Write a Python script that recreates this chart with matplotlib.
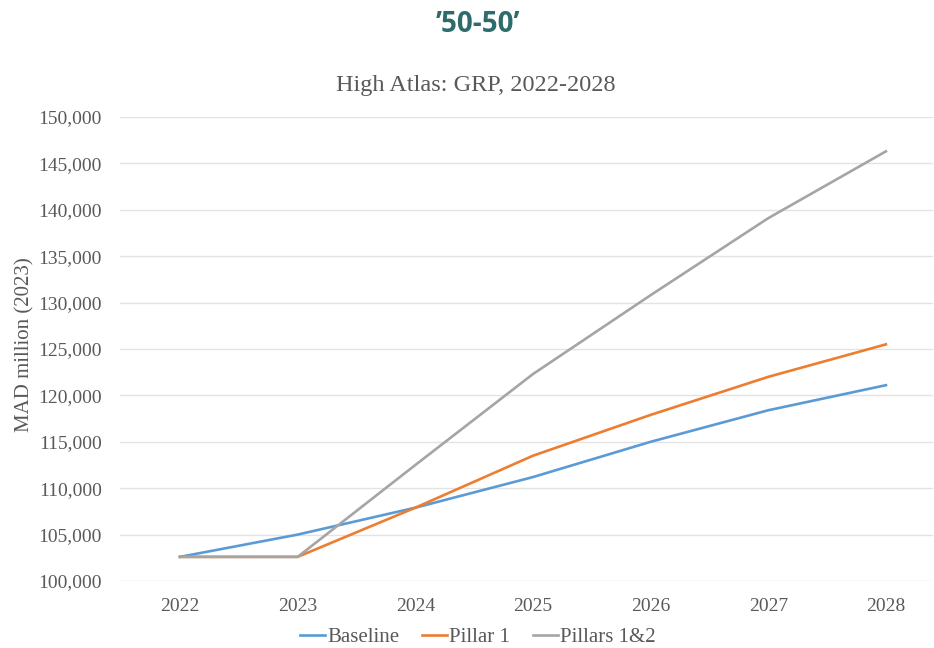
import matplotlib
matplotlib.use("Agg")
import matplotlib.pyplot as plt
from matplotlib.ticker import FuncFormatter

years = ["2022", "2023", "2024", "2025", "2026", "2027", "2028"]
baseline = [102600, 105000, 107900, 111200, 115000, 118400, 121100]
pillar1 = [102600, 102600, 107900, 113500, 117900, 122000, 125500]
pillars12 = [102600, 102600, 112500, 122300, 130800, 139100, 146300]

fig = plt.figure(figsize=(9.34, 6.48), dpi=100)
ax = fig.add_axes([120/934, (648-581)/648, (933-120)/934, (581-117)/648])

serif = "Liberation Serif"
txt = "#595959"
x = list(range(len(years)))
ax.plot(x, baseline, color="#5B9BD5", lw=1.9, label="Baseline")
ax.plot(x, pillar1, color="#ED7D31", lw=1.9, label="Pillar 1")
ax.plot(x, pillars12, color="#A5A5A5", lw=1.9, label="Pillars 1&2")

ax.set_xlim(-0.51, 6.4)
ax.set_ylim(100000, 150000)
ax.set_yticks(range(100000, 150001, 5000))
ax.yaxis.set_major_formatter(FuncFormatter(lambda v, p: f"{int(v):,}"))
ax.set_xticks(x)
ax.set_xticklabels(years)
ax.grid(axis="y", color="#E3E3E3", lw=1)
ax.set_axisbelow(True)
for s in ax.spines.values():
    s.set_visible(False)
ax.tick_params(axis="both", length=0, labelsize=14, colors=txt)
ax.tick_params(axis="y", pad=13)
ax.tick_params(axis="x", pad=12)
for lab in ax.get_xticklabels() + ax.get_yticklabels():
    lab.set_fontfamily(serif)

ax.set_ylabel("MAD million (2023)", fontfamily=serif, fontsize=15, color=txt)
ax.yaxis.set_label_coords(-0.117, (581-345)/464, transform=ax.transAxes)
ax.yaxis.label.set_va("center")

fig.text(476/934, 1 - 86/648, "High Atlas: GRP, 2022-2028", ha="center", va="center",
         fontfamily=serif, fontsize=17.5, color=txt)
fig.text(478/934, 1 - 25/648, "\u201950-50\u2019", ha="center", va="center",
         fontfamily="Open Sans", fontweight="bold", fontsize=20, color="#2E6B6B")

leg = fig.legend(loc="center", bbox_to_anchor=(478/934, 1 - 637/648), ncol=3, frameon=False,
                 prop={"family": serif, "size": 15}, handlelength=1.2, handletextpad=0.1,
                 columnspacing=1.1, borderaxespad=0, borderpad=0)
for t in leg.get_texts():
    t.set_color(txt)

fig.savefig("out.png", dpi=100, facecolor="white")
